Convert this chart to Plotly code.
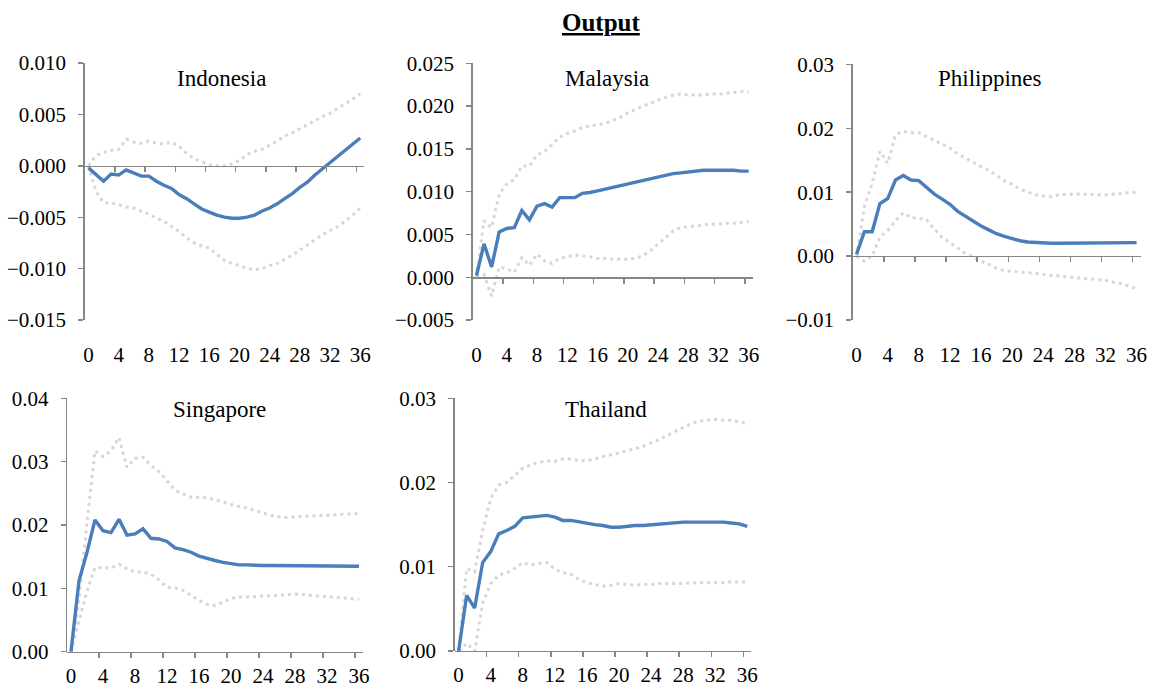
import plotly.graph_objects as go

# ---------------- data ----------------
horizon = list(range(37))
x_tick_values = list(range(0, 37, 4))
x_tick_labels = [str(v) for v in x_tick_values]
x_tick_marks = [3.5 + 4 * k for k in range(9)]

countries = ["Indonesia", "Malaysia", "Philippines", "Singapore", "Thailand"]

indonesia_irf = [-0.0002, -0.0009, -0.0015, -0.0008, -0.0009, -0.0004, -0.0007, -0.0010, -0.0010, -0.0015,
                 -0.0019, -0.0022, -0.0028, -0.0032, -0.0037, -0.0042, -0.0045, -0.0048, -0.0050, -0.0051,
                 -0.0051, -0.0050, -0.0048, -0.0044, -0.0041, -0.0037, -0.0032, -0.0027, -0.0021, -0.0016,
                 -0.0009, -0.0003, 0.0004, 0.0009, 0.0016, 0.0022, 0.0027]
indonesia_upper = [0.0000, 0.0010, 0.0013, 0.0015, 0.0016, 0.0026, 0.0023, 0.0022, 0.0024, 0.0022,
                   0.0021, 0.0023, 0.0019, 0.0012, 0.0007, 0.0004, 0.0001, 0.0000, 0.0000, 0.0002,
                   0.0005, 0.0011, 0.0014, 0.0016, 0.0020, 0.0024, 0.0029, 0.0032, 0.0036, 0.0040,
                   0.0044, 0.0048, 0.0051, 0.0056, 0.0060, 0.0065, 0.0070]
indonesia_lower = [0.0000, -0.0025, -0.0036, -0.0036, -0.0038, -0.0040, -0.0041, -0.0044, -0.0047, -0.0051,
                   -0.0054, -0.0059, -0.0064, -0.0070, -0.0075, -0.0078, -0.0080, -0.0086, -0.0092, -0.0095,
                   -0.0097, -0.0100, -0.0101, -0.0100, -0.0097, -0.0095, -0.0091, -0.0087, -0.0082, -0.0077,
                   -0.0072, -0.0067, -0.0063, -0.0059, -0.0054, -0.0048, -0.0041]

malaysia_irf = [0.0002, 0.0039, 0.0012, 0.0053, 0.0057, 0.0058, 0.0078, 0.0067, 0.0083, 0.0086,
                0.0082, 0.0093, 0.0093, 0.0093, 0.0098, 0.0099, 0.0101, 0.0103, 0.0105, 0.0108,
                0.0110, 0.0112, 0.0114, 0.0116, 0.0118, 0.0120, 0.0121, 0.0122, 0.0123, 0.0124,
                0.0125, 0.0125, 0.0125, 0.0125, 0.0125, 0.0124, 0.0124]
malaysia_upper = [0.0000, 0.0066, 0.0058, 0.0097, 0.0109, 0.0114, 0.0130, 0.0130, 0.0143, 0.0147,
                  0.0155, 0.0164, 0.0168, 0.0171, 0.0175, 0.0177, 0.0178, 0.0180, 0.0183, 0.0187,
                  0.0192, 0.0196, 0.0200, 0.0203, 0.0207, 0.0210, 0.0213, 0.0214, 0.0213, 0.0213,
                  0.0213, 0.0214, 0.0214, 0.0215, 0.0216, 0.0217, 0.0216]
malaysia_lower = [0.0000, 0.0003, -0.0022, 0.0012, 0.0010, 0.0006, 0.0023, 0.0014, 0.0027, 0.0019,
                  0.0016, 0.0022, 0.0024, 0.0026, 0.0025, 0.0024, 0.0022, 0.0022, 0.0021, 0.0021,
                  0.0021, 0.0022, 0.0025, 0.0031, 0.0039, 0.0047, 0.0054, 0.0058, 0.0059, 0.0060,
                  0.0061, 0.0062, 0.0062, 0.0063, 0.0063, 0.0064, 0.0065]

philippines_irf = [0.0003, 0.0038, 0.0038, 0.0082, 0.0090, 0.0119, 0.0126, 0.0119, 0.0118, 0.0108,
                   0.0097, 0.0089, 0.0081, 0.0070, 0.0062, 0.0055, 0.0047, 0.0041, 0.0035, 0.0031,
                   0.0027, 0.0024, 0.0022, 0.0021, 0.0020, 0.0020, 0.0020, 0.0020, 0.0020, 0.0020,
                   0.0020, 0.0020, 0.0020, 0.0020, 0.0021, 0.0021, 0.0021]
philippines_upper = [0.0000, 0.0078, 0.0114, 0.0164, 0.0145, 0.0190, 0.0195, 0.0193, 0.0193, 0.0187,
                     0.0180, 0.0175, 0.0169, 0.0160, 0.0153, 0.0147, 0.0140, 0.0134, 0.0126, 0.0118,
                     0.0112, 0.0105, 0.0100, 0.0096, 0.0094, 0.0093, 0.0096, 0.0097, 0.0097, 0.0097,
                     0.0096, 0.0096, 0.0096, 0.0097, 0.0097, 0.0099, 0.0100]
philippines_lower = [0.0000, -0.0008, 0.0000, 0.0030, 0.0040, 0.0055, 0.0068, 0.0060, 0.0059, 0.0057,
                     0.0042, 0.0029, 0.0021, 0.0013, 0.0004, -0.0001, -0.0008, -0.0013, -0.0019, -0.0023,
                     -0.0024, -0.0024, -0.0026, -0.0027, -0.0029, -0.0030, -0.0031, -0.0032, -0.0033, -0.0034,
                     -0.0035, -0.0036, -0.0038, -0.0041, -0.0043, -0.0047, -0.0051]

singapore_irf = [0.0000, 0.0112, 0.0157, 0.0208, 0.0191, 0.0188, 0.0209, 0.0184, 0.0186, 0.0194,
                 0.0179, 0.0178, 0.0174, 0.0164, 0.0161, 0.0157, 0.0151, 0.0147, 0.0144, 0.0141,
                 0.0139, 0.0137, 0.0137, 0.0136, 0.0136, 0.0136, 0.0136, 0.0136, 0.0136, 0.0136,
                 0.0136, 0.0136, 0.0136, 0.0136, 0.0136, 0.0135, 0.0135]
singapore_upper = [0.0000, 0.0082, 0.0204, 0.0317, 0.0308, 0.0317, 0.0338, 0.0291, 0.0305, 0.0307,
                   0.0294, 0.0284, 0.0270, 0.0255, 0.0249, 0.0244, 0.0244, 0.0243, 0.0240, 0.0236,
                   0.0233, 0.0229, 0.0227, 0.0223, 0.0219, 0.0215, 0.0213, 0.0212, 0.0213, 0.0213,
                   0.0214, 0.0215, 0.0215, 0.0216, 0.0217, 0.0217, 0.0218]
singapore_lower = [0.0000, 0.0047, 0.0096, 0.0133, 0.0133, 0.0132, 0.0138, 0.0131, 0.0126, 0.0126,
                   0.0122, 0.0113, 0.0102, 0.0101, 0.0097, 0.0089, 0.0081, 0.0075, 0.0073, 0.0078,
                   0.0084, 0.0086, 0.0086, 0.0087, 0.0088, 0.0088, 0.0089, 0.0090, 0.0091, 0.0090,
                   0.0089, 0.0088, 0.0087, 0.0086, 0.0086, 0.0084, 0.0082]

thailand_irf = [0.0000, 0.0066, 0.0051, 0.0105, 0.0118, 0.0139, 0.0143, 0.0148, 0.0158, 0.0159,
                0.0159, 0.0161, 0.0159, 0.0155, 0.0155, 0.0153, 0.0151, 0.0150, 0.0149, 0.0147,
                0.0147, 0.0148, 0.0149, 0.0149, 0.0150, 0.0151, 0.0152, 0.0153, 0.0153, 0.0153,
                0.0153, 0.0153, 0.0153, 0.0153, 0.0152, 0.0151, 0.0148]
thailand_upper = [0.0000, 0.0098, 0.0094, 0.0143, 0.0181, 0.0197, 0.0200, 0.0209, 0.0217, 0.0221,
                  0.0224, 0.0226, 0.0225, 0.0228, 0.0228, 0.0226, 0.0226, 0.0228, 0.0231, 0.0233,
                  0.0235, 0.0238, 0.0240, 0.0243, 0.0247, 0.0251, 0.0256, 0.0261, 0.0266, 0.0270,
                  0.0273, 0.0274, 0.0275, 0.0274, 0.0274, 0.0272, 0.0270]
thailand_lower = [0.0000, 0.0009, 0.0000, 0.0057, 0.0080, 0.0090, 0.0093, 0.0098, 0.0105, 0.0102,
                  0.0104, 0.0105, 0.0097, 0.0093, 0.0091, 0.0085, 0.0081, 0.0079, 0.0077, 0.0078,
                  0.0080, 0.0079, 0.0078, 0.0079, 0.0079, 0.0080, 0.0080, 0.0080, 0.0080, 0.0081,
                  0.0081, 0.0081, 0.0081, 0.0081, 0.0082, 0.0082, 0.0082]

y_ranges = [(-0.015, 0.010), (-0.005, 0.025), (-0.01, 0.03), (0.0, 0.04), (0.0, 0.03)]
y_dticks = [0.005, 0.005, 0.01, 0.01, 0.01]
y_formats = [".3f", ".3f", ".2f", ".2f", ".2f"]

series = [
    (indonesia_irf, indonesia_upper, indonesia_lower),
    (malaysia_irf, malaysia_upper, malaysia_lower),
    (philippines_irf, philippines_upper, philippines_lower),
    (singapore_irf, singapore_upper, singapore_lower),
    (thailand_irf, thailand_upper, thailand_lower),
]

# ---------------- layout geometry (pixels) ----------------
W, H = 1152, 688
# (left, right, top, bottom) of each plot area in pixels
boxes = [
    (84.7, 364.0, 63.0, 320.0),
    (472.7, 752.5, 63.3, 320.0),
    (852.7, 1140.5, 64.3, 320.0),
    (67.0, 363.0, 398.3, 651.7),
    (454.6, 751.3, 398.3, 651.0),
]
title_pos = [(221, 79), (607, 79), (990, 79), (219, 410), (606, 410)]

AXIS = "#868686"
BLUE = "#4A7EBB"
BAND = "#D6D6D6"
FONT = "Liberation Serif, Times New Roman, serif"


def px_x(v):
    return v / W


def px_y(v):
    return 1 - v / H


fig = go.Figure()
layout = dict(
    template="none",
    width=W, height=H, autosize=False,
    margin=dict(l=0, r=0, t=0, b=0, pad=0, autoexpand=False),
    paper_bgcolor="white", plot_bgcolor="white",
    showlegend=False,
    font=dict(family=FONT, size=21, color="black"),
)
annotations = []

for i, (name, (irf, up, lo)) in enumerate(zip(countries, series)):
    n = i + 1
    ov = i + 11
    l, r, t, b = boxes[i]
    xd = [px_x(l), px_x(r)]
    yd = [px_y(b), px_y(t)]
    ymin, ymax = y_ranges[i]
    zero_pos = yd[0] + (0 - ymin) / (ymax - ymin) * (yd[1] - yd[0])
    top_row = i < 3

    layout[f"xaxis{n}"] = dict(
        domain=xd, anchor=f"y{n}", range=[-0.5, 36.5], automargin=False,
        tickmode="array", tickvals=x_tick_values, ticktext=x_tick_labels,
        ticks="", showline=False, showgrid=False, zeroline=False,
        ticklabelstandoff=20 if top_row else 9,
        tickfont=dict(family=FONT, size=21, color="black"),
    )
    layout[f"xaxis{ov}"] = dict(
        domain=xd, anchor="free", position=zero_pos, overlaying=f"x{n}",
        range=[-0.5, 36.5], automargin=False,
        showline=True, linecolor=AXIS, linewidth=1.4,
        tickmode="array", tickvals=x_tick_marks, ticks="outside", ticklen=5,
        tickcolor=AXIS, tickwidth=1.4, showticklabels=False,
        showgrid=False, zeroline=False,
    )
    layout[f"yaxis{n}"] = dict(
        domain=yd, anchor=f"x{n}", range=[ymin, ymax], dtick=y_dticks[i], tick0=0,
        tickformat=y_formats[i], automargin=False,
        showline=True, linecolor=AXIS, linewidth=1.4,
        ticks="outside", ticklen=5, tickcolor=AXIS, tickwidth=1.4,
        showgrid=False, zeroline=False, ticklabelstandoff=8,
        tickfont=dict(family=FONT, size=21, color="black"),
    )

    for band in (up, lo):
        fig.add_trace(go.Scatter(
            x=horizon, y=band, mode="lines", xaxis=f"x{n}", yaxis=f"y{n}",
            line=dict(color=BAND, width=3, dash="3px,4px"), hoverinfo="skip",
        ))
    fig.add_trace(go.Scatter(
        x=horizon, y=irf, mode="lines", xaxis=f"x{ov}", yaxis=f"y{n}",
        line=dict(color=BLUE, width=3.4), hoverinfo="skip",
    ))

    tx, ty = title_pos[i]
    annotations.append(dict(
        text=name, x=px_x(tx), y=px_y(ty), xref="paper", yref="paper",
        xanchor="center", yanchor="middle", showarrow=False,
        font=dict(family=FONT, size=23, color="black"),
    ))

annotations.append(dict(
    text="<b><u>Output</u></b>", x=px_x(601), y=px_y(22), xref="paper", yref="paper",
    xanchor="center", yanchor="middle", showarrow=False,
    font=dict(family=FONT, size=25, color="black"),
))
layout["annotations"] = annotations
fig.update_layout(**layout)

fig.write_html(
    "out.html",
    config={"responsive": False, "displayModeBar": False, "staticPlot": True},
    post_script="document.body.style.margin='0';document.body.style.overflow='hidden';",
)
